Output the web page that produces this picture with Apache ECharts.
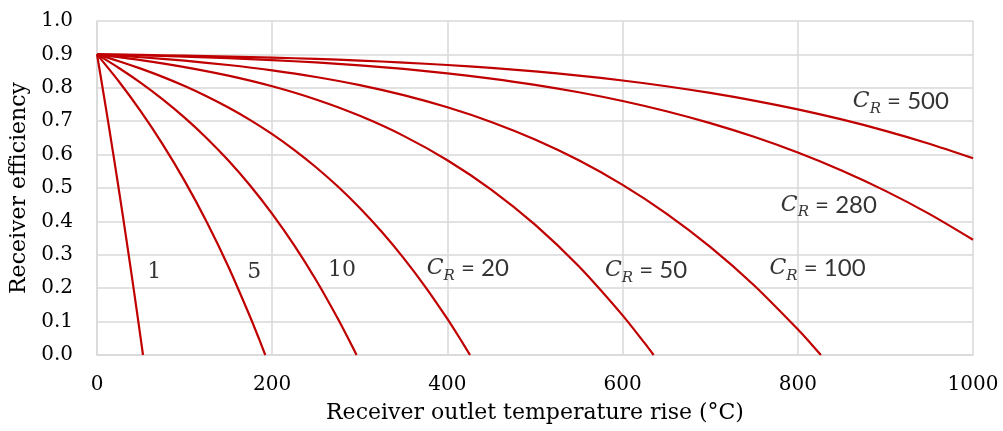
<!DOCTYPE html>
<html><head><meta charset="utf-8">
<script src="https://cdn.jsdelivr.net/npm/echarts@6/dist/echarts.min.js"></script>
<style>html,body{margin:0;padding:0;background:#fff}#c{width:1003px;height:431px}</style>
</head><body><div id="c"></div>
<script>
// Receiver outlet temperature rise (°C) vs efficiency, one curve per concentration ratio C_R
const cr1T   = [0,5,10,15,20,25,30,35,40,45,50,52.5];
const cr1Eff = [0.9,0.8217,0.7421,0.6609,0.5783,0.4940,0.4082,0.3206,0.2314,0.1404,0.0476,0];
const cr5T   = [0,25,50,75,100,125,150,175,185,192.1];
const cr5Eff = [0.9,0.8188,0.7295,0.6308,0.5214,0.3997,0.2642,0.1131,0.0480,0];
const cr10T   = [0,25,50,75,100,125,150,175,200,225,250,275,290,296.3];
const cr10Eff = [0.9,0.8594,0.8148,0.7654,0.7107,0.6498,0.5821,0.5066,0.4224,0.3287,0.2244,0.1085,0.0330,0];
const cr20T   = [0,25,50,75,100,125,150,175,200,225,250,275,300,325,350,375,400,415,425.8];
const cr20Eff = [0.9,0.8797,0.8574,0.8327,0.8053,0.7749,0.7410,0.7033,0.6612,0.6143,0.5622,0.5043,0.4400,0.3688,0.2902,0.2035,0.1081,0.0463,0];
const cr50T   = [0,50,100,150,200,250,300,350,400,450,500,550,600,625,635.4];
const cr50Eff = [0.9,0.8830,0.8621,0.8364,0.8045,0.7649,0.7160,0.6561,0.5832,0.4953,0.3902,0.2655,0.1187,0.0361,0];
const cr100T   = [0,50,100,150,200,250,300,350,400,450,500,550,600,650,700,750,800,815,826.4];
const cr100Eff = [0.9,0.8915,0.8811,0.8682,0.8522,0.8324,0.8080,0.7780,0.7416,0.6977,0.6451,0.5828,0.5093,0.4235,0.3238,0.2089,0.0770,0.0339,0];
const cr280T   = [0,50,100,150,200,250,300,350,400,450,500,550,600,650,700,750,800,850,900,950,1000];
const cr280Eff = [0.9,0.8970,0.8932,0.8886,0.8829,0.8759,0.8671,0.8564,0.8434,0.8277,0.8090,0.7867,0.7605,0.7298,0.6942,0.6532,0.6061,0.5524,0.4914,0.4226,0.3452];
const cr500T   = [0,50,100,150,200,250,300,350,400,450,500,550,600,650,700,750,800,850,900,950,1000];
const cr500Eff = [0.9,0.8983,0.8962,0.8936,0.8904,0.8865,0.8816,0.8756,0.8683,0.8595,0.8490,0.8366,0.8219,0.8047,0.7848,0.7618,0.7354,0.7053,0.6712,0.6327,0.5893];

// Curve annotations (anchor = left edge, vertical middle, in data units)
const labelTexts = ['1','5','10','20','50','100','280','500'];
const labelHasCR = [false,false,false,true,true,true,true,true];
const labelT = [57.5,171.5,263.8,376.4,579.9,767.7,780.6,862.8];
const labelV = [0.249,0.249,0.254,0.26,0.254,0.26,0.449,0.76];

const xTickLabels = ['0','200','400','600','800','1000'];
const yTickLabels = ['0.0','0.1','0.2','0.3','0.4','0.5','0.6','0.7','0.8','0.9','1.0'];

const zip = (xs, ys) => xs.map((x, i) => [x, ys[i]]);
const curves = [
  zip(cr1T, cr1Eff), zip(cr5T, cr5Eff), zip(cr10T, cr10Eff), zip(cr20T, cr20Eff),
  zip(cr50T, cr50Eff), zip(cr100T, cr100Eff), zip(cr280T, cr280Eff), zip(cr500T, cr500Eff)
];

const serif = "'DejaVu Serif', serif";
const sans = "Lato, 'Open Sans', sans-serif";
const red = '#C00000';
const grey = '#D9D9D9';

const chart = echarts.init(document.getElementById('c'), null, {renderer: 'canvas'});

const lineSeries = curves.map(d => ({
  type: 'line', data: d, showSymbol: false, symbol: 'none',
  smooth: 0.25,
  lineStyle: {color: red, width: 2.2}, silent: true, z: 3
}));

const labelSeries = {
  type: 'scatter', symbolSize: 0, silent: true, z: 5,
  data: labelT.map((t, i) => [t, labelV[i], i]),
  label: {
    show: true, position: 'right', distance: 0,
    formatter: p => {
      const i = p.data[2];
      return labelHasCR[i] ? '{c|C}{r|R}{t| = ' + labelTexts[i] + '}' : '{n|' + labelTexts[i] + '}';
    },
    rich: {
      n: {fontFamily: serif, fontSize: 22, color: '#000', lineHeight: 30, verticalAlign: 'middle'},
      c: {fontFamily: serif, fontStyle: 'italic', fontSize: 22, color: '#000', lineHeight: 30, verticalAlign: 'middle'},
      r: {fontFamily: serif, fontStyle: 'italic', fontSize: 15, color: '#000', lineHeight: 30, verticalAlign: 'bottom'},
      t: {fontFamily: sans, fontSize: 24, color: '#000', lineHeight: 30, verticalAlign: 'middle'}
    }
  }
};

chart.setOption({
  animation: false,
  backgroundColor: '#fff',
  grid: {left: 97, right: 30, top: 21, bottom: 76, containLabel: false},
  xAxis: {
    type: 'value', min: 0, max: 1000, interval: 200,
    axisLine: {show: true, lineStyle: {color: grey, width: 1.5}},
    axisTick: {show: false},
    splitLine: {show: true, lineStyle: {color: grey, width: 1.5}},
    axisLabel: {color: '#000', fontFamily: serif, fontSize: 20, margin: 20,
      formatter: v => xTickLabels[Math.round(v / 200)]},
    name: 'Receiver outlet temperature rise (°C)', nameLocation: 'middle', nameGap: 58,
    nameTextStyle: {color: '#000', fontFamily: serif, fontSize: 22, verticalAlign: 'middle'}
  },
  yAxis: {
    type: 'value', min: 0, max: 1, interval: 0.1,
    axisLine: {show: true, lineStyle: {color: grey, width: 1.5}},
    axisTick: {show: false},
    splitLine: {show: true, lineStyle: {color: grey, width: 1.5}},
    axisLabel: {color: '#000', fontFamily: serif, fontSize: 20, margin: 24,
      formatter: v => yTickLabels[Math.round(v * 10)]},
    name: 'Receiver efficiency', nameLocation: 'middle', nameGap: 75, nameRotate: 90,
    nameTextStyle: {color: '#000', fontFamily: serif, fontSize: 22, verticalAlign: 'middle'}
  },
  series: [...lineSeries, labelSeries]
});
</script>
</body></html>
